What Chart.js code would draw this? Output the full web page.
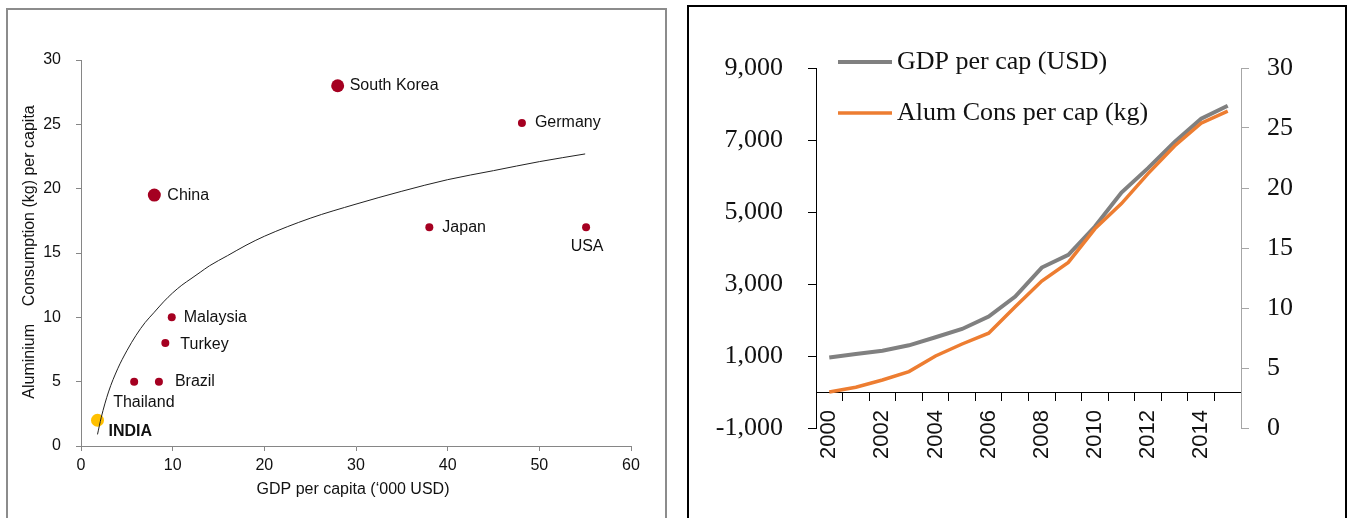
<!DOCTYPE html>
<html>
<head>
<meta charset="utf-8">
<script src="https://cdn.jsdelivr.net/npm/chart.js"></script>
<style>
	body { margin: 0; background: #fff; }
	#page { position: relative; width: 1352px; height: 518px; overflow: hidden; }
	.box { position: absolute; box-sizing: border-box; }
	#leftBox { left: 6px; top: 8px; width: 661px; height: 540px; border: 2px solid #8c8c8c; }
	#rightBox { left: 687px; top: 5px; width: 660px; height: 540px; border: 2px solid #000; }
	#leftChart { position: absolute; left: 0; top: 0; }
	#rightChart { position: absolute; left: 680px; top: 0; }
</style>
</head>
<body>
<div id="page">
	<div class="box" id="leftBox"></div>
	<div class="box" id="rightBox"></div>
	<canvas id="leftChart" width="680" height="518"></canvas>
	<canvas id="rightChart" width="672" height="518"></canvas>
</div>
<script>
// Left chart: countries, GDP per capita ('000 USD) vs aluminium consumption (kg per capita)
var countries = ["South Korea", "Germany", "China", "Japan", "USA", "Malaysia", "Turkey", "Brazil", "Thailand", "INDIA"];
var gdpPerCapita = [28.0, 48.1, 8.0, 38.0, 55.1, 9.9, 9.2, 8.5, 5.8, 1.8];
var alumPerCapita = [28.0, 25.1, 19.5, 17.0, 17.0, 10.0, 8.0, 5.0, 5.0, 2.0];
var bigDots = ["South Korea", "China"];

// trend curve
var trendX = [1.8, 2.2, 3, 4, 5, 6, 7, 8, 9, 10, 11, 12, 13, 14, 16, 18, 20, 25, 30, 35, 40, 45, 50, 55];
var trendY = [0.9, 2.2, 4.2, 6.0, 7.4, 8.6, 9.6, 10.4, 11.2, 11.9, 12.5, 13.0, 13.5, 14.0, 14.8, 15.6, 16.3, 17.7, 18.8, 19.8, 20.7, 21.4, 22.1, 22.7];

// Right chart: India over time
var years = ["2000", "2001", "2002", "2003", "2004", "2005", "2006", "2007", "2008", "2009", "2010", "2011", "2012", "2013", "2014", "2015"];
var gdpUsd = [960, 1055, 1148, 1297, 1520, 1750, 2094, 2650, 3457, 3810, 4597, 5542, 6219, 6942, 7590, 7950];
var alumKg = [3.0, 3.4, 4.0, 4.7, 6.0, 7.0, 7.9, 10.1, 12.25, 13.8, 16.6, 18.7, 21.2, 23.5, 25.4, 26.4];

var sans = "'Liberation Sans', Arial, sans-serif";
var serif = "'Liberation Serif', 'Times New Roman', serif";
var darkRed = "#A50021";
var indiaGold = "#FFC000";

// where each country name sits relative to its dot: [dx, dy, align]
var labelPlace = {
	"South Korea": [12, 0, "left"],
	"Germany": [13, 0, "left"],
	"China": [13, 0, "left"],
	"Japan": [13, 0, "left"],
	"USA": [1, 19, "center"],
	"Malaysia": [12, 0, "left"],
	"Turkey": [15, 2, "left"],
	"Brazil": [16, 0, "left"],
	"Thailand": [-21, 21, "left"],
	"INDIA": [11, 11, "left"]
};

var scatterPoints = countries.map(function(c, i) {
	return { x: gdpPerCapita[i], y: alumPerCapita[i] };
});
var trendPoints = trendX.map(function(x, i) {
	return { x: x, y: trendY[i] };
});

var leftLabels = {
	id: "leftLabels",
	afterDatasetsDraw: function(chart) {
		var ctx = chart.ctx;
		var area = chart.chartArea;
		var meta = chart.getDatasetMeta(1);
		ctx.save();
		ctx.fillStyle = "#111";
		ctx.textBaseline = "middle";
		meta.data.forEach(function(el, i) {
			var name = countries[i];
			var p = labelPlace[name];
			ctx.font = (name === "INDIA" ? "bold " : "") + "16px " + sans;
			ctx.textAlign = p[2];
			ctx.fillText(name, el.x + p[0], el.y + p[1]);
		});

		// axis titles
		ctx.font = "16px " + sans;
		ctx.textAlign = "center";
		ctx.fillText("GDP per capita (\u2018000 USD)", (area.left + area.right) / 2 - 3, 490);
		ctx.translate(30, (area.top + area.bottom) / 2 - 1);
		ctx.rotate(-Math.PI / 2);
		ctx.fillText("Aluminium    Consumption (kg) per capita", 0, 0);
		ctx.restore();
	}
};

new Chart(document.getElementById("leftChart"), {
	type: "scatter",
	data: {
		datasets: [
			{
				label: "Trend",
				data: trendPoints,
				showLine: true,
				borderColor: "#222",
				borderWidth: 1,
				pointRadius: 0,
				cubicInterpolationMode: "monotone",
				order: 0
			},
			{
				label: "Countries",
				data: scatterPoints,
				backgroundColor: function(c) {
					return countries[c.dataIndex] === "INDIA" ? indiaGold : darkRed;
				},
				borderWidth: 0,
				pointRadius: function(c) {
					var name = countries[c.dataIndex];
					if (name === "INDIA") return 6.5;
					return bigDots.indexOf(name) >= 0 ? 6.5 : 4;
				},
				order: 1
			}
		]
	},
	options: {
		responsive: false,
		animation: false,
		layout: { padding: { left: 0, right: 49, top: 60, bottom: 0 } },
		plugins: { legend: { display: false }, tooltip: { enabled: false } },
		scales: {
			x: {
				type: "linear",
				min: 0,
				max: 60,
				ticks: { stepSize: 10, padding: 5, color: "#111", font: { family: sans, size: 16 } },
				grid: { drawOnChartArea: false, tickLength: 5, color: "#868686" },
				border: { color: "#868686" },
				afterFit: function(s) { s.height = 72; }
			},
			y: {
				min: 0,
				max: 30,
				ticks: { stepSize: 5, padding: 15, color: "#111", font: { family: sans, size: 16 } },
				grid: { drawOnChartArea: false, tickLength: 5, color: "#868686" },
				border: { color: "#868686" },
				afterFit: function(s) { s.width = 81; }
			}
		}
	},
	plugins: [leftLabels]
});

// legend drawn inside the plot, top left
var legendRows = [62, 113];
var rightLegend = {
	id: "rightLegend",
	afterDraw: function(chart) {
		var ctx = chart.ctx;
		ctx.save();
		ctx.font = "26px " + serif;
		ctx.fillStyle = "#111";
		ctx.textAlign = "left";
		ctx.textBaseline = "alphabetic";
		chart.data.datasets.forEach(function(ds, i) {
			var y = legendRows[i];
			ctx.strokeStyle = ds.borderColor;
			ctx.lineWidth = ds.borderWidth;
			ctx.beginPath();
			ctx.moveTo(158, y);
			ctx.lineTo(212, y);
			ctx.stroke();
			ctx.fillText(ds.label, 217, y + 7);
		});
		ctx.restore();
	}
};

new Chart(document.getElementById("rightChart"), {
	type: "line",
	data: {
		labels: years,
		datasets: [
			{
				label: "GDP per cap (USD)",
				data: gdpUsd,
				borderColor: "#808080",
				borderWidth: 4,
				pointRadius: 0,
				tension: 0,
				yAxisID: "y",
				order: 2
			},
			{
				label: "Alum Cons per cap (kg)",
				data: alumKg,
				borderColor: "#ED7D31",
				borderWidth: 3.5,
				pointRadius: 0,
				tension: 0,
				yAxisID: "y1",
				order: 1
			}
		]
	},
	options: {
		responsive: false,
		animation: false,
		layout: { padding: { left: 0, right: 0, top: 68, bottom: 90 } },
		plugins: { legend: { display: false }, tooltip: { enabled: false } },
		scales: {
			x: {
				type: "category",
				position: { y: 0 },
				offset: true,
				grid: { offset: true, drawOnChartArea: false, tickLength: 8, color: "#000" },
				border: { color: "#000" },
				ticks: {
					autoSkip: false,
					minRotation: 90,
					maxRotation: 90,
					padding: 10,
					color: "#111",
					font: { family: sans, size: 22 },
					callback: function(v, i) {
						return i % 2 === 0 ? this.getLabelForValue(v) : "";
					}
				}
			},
			y: {
				position: "left",
				min: -1000,
				max: 9000,
				ticks: { stepSize: 2000, padding: 25, color: "#111", font: { family: serif, size: 26 } },
				grid: { drawOnChartArea: false, tickLength: 8, color: "#000" },
				border: { color: "#000" },
				afterFit: function(s) { s.width = 136; }
			},
			y1: {
				position: "right",
				min: 0,
				max: 30,
				ticks: { stepSize: 5, padding: 18, color: "#111", font: { family: serif, size: 26 } },
				grid: { drawOnChartArea: false, tickLength: 8, color: "#a6a6a6" },
				border: { color: "#a6a6a6" },
				afterFit: function(s) { s.width = 111; }
			}
		}
	},
	plugins: [rightLegend]
});
</script>
</body>
</html>
